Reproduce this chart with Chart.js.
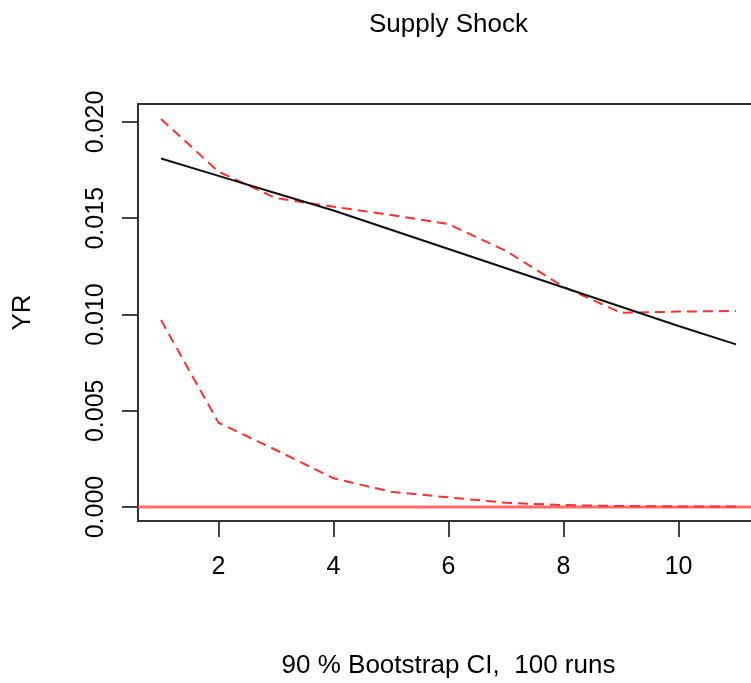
<!DOCTYPE html>
<html>
<head>
<meta charset="utf-8">
<script src="https://cdn.jsdelivr.net/npm/chart.js@4/dist/chart.umd.min.js"></script>
<style>
  html, body { margin: 0; padding: 0; background: #fff; overflow: hidden; }
  #wrap { width: 751px; height: 683px; position: relative; }
</style>
</head>
<body>
<div id="wrap"><canvas id="graph_area"></canvas></div>
<script>
// horizons 1..11
var steps = [1, 2, 3, 4, 5, 6, 7, 8, 9, 10, 11];
// impulse response of YR
var response = [0.0181, 0.0172, 0.0163, 0.0154, 0.0144, 0.0134, 0.0124, 0.0114, 0.0104, 0.0094, 0.00845];
// bootstrap band
var upperCI = [0.02016, 0.01742, 0.01604, 0.0156, 0.01517, 0.0147, 0.01330, 0.01144, 0.01009, 0.01015, 0.01018];
var lowerCI = [0.00971, 0.00438, 0.00296, 0.00149, 0.00079, 0.0005, 0.00022, 0.0001, 0.00005, 0.00003, 0.00002];
// tick labels
var xTicks = [2, 4, 6, 8, 10];
var yTicks = [0, 0.005, 0.010, 0.015, 0.020];
var yTickLabels = ['0.000', '0.005', '0.010', '0.015', '0.020'];

var FONT = '"Liberation Sans", Arial, Helvetica, sans-serif';

toPoints = function (ys) {
  return steps.map(function (x, i) { return { x: x, y: ys[i] }; });
}

// box, zero line and texts, R style
var rPlotPlugin = {
  id: 'rPlot',
  beforeDatasetsDraw: function (chart) {
    var ctx = chart.ctx;
    var area = chart.chartArea;
    var y0 = chart.scales.y.getPixelForValue(0);
    ctx.save();
    ctx.strokeStyle = 'rgba(255, 80, 80, 0.85)';
    ctx.lineWidth = 3;
    ctx.beginPath();
    ctx.moveTo(area.left, y0);
    ctx.lineTo(area.right, y0);
    ctx.stroke();
    ctx.restore();
  },
  afterDraw: function (chart) {
    var ctx = chart.ctx;
    var area = chart.chartArea;
    var yScale = chart.scales.y;
    ctx.save();
    // top of the box
    ctx.strokeStyle = '#333';
    ctx.lineWidth = 2;
    ctx.beginPath();
    ctx.moveTo(area.left - 1, area.top);
    ctx.lineTo(area.right, area.top);
    ctx.stroke();

    ctx.fillStyle = '#000';
    ctx.textAlign = 'center';
    ctx.textBaseline = 'middle';

    // title
    ctx.font = '26px ' + FONT;
    ctx.fillText('Supply Shock', (area.left + 759) / 2, 25);

    // x label
    ctx.font = '26px ' + FONT;
    ctx.fillText('90 % Bootstrap CI,  100 runs', (area.left + 759) / 2, 666);

    // y label
    ctx.save();
    ctx.translate(23, (area.top + area.bottom) / 2);
    ctx.rotate(-Math.PI / 2);
    ctx.fillText('YR', 0, 0);
    ctx.restore();

    // y tick labels, rotated like R
    ctx.font = '25px ' + FONT;
    yTicks.forEach(function (v, i) {
      ctx.save();
      ctx.translate(96, yScale.getPixelForValue(v));
      ctx.rotate(-Math.PI / 2);
      ctx.fillText(yTickLabels[i], 0, 0);
      ctx.restore();
    });
    ctx.restore();
  }
};

const ctx = document.getElementById('graph_area').getContext('2d');
new Chart(ctx, {
  type: 'line',
  data: {
    datasets: [{
      data: toPoints(response),
      borderColor: '#111',
      borderWidth: 2,
      pointRadius: 0,
      tension: 0
    }, {
      data: toPoints(upperCI),
      borderColor: '#ff3030',
      borderWidth: 2,
      borderDash: [10, 6],
      pointRadius: 0,
      tension: 0
    }, {
      data: toPoints(lowerCI),
      borderColor: '#ff3030',
      borderWidth: 2,
      borderDash: [10, 6],
      pointRadius: 0,
      tension: 0
    }]
  },
  options: {
    responsive: true,
    maintainAspectRatio: false,
    animation: false,
    layout: { padding: { top: 104, left: 0, right: 0, bottom: 0 } },
    plugins: {
      legend: { display: false },
      tooltip: { enabled: false }
    },
    scales: {
      x: {
        type: 'linear',
        min: 0.6,
        max: 11.26,
        afterBuildTicks: function (scale) {
          scale.ticks = xTicks.map(function (v) { return { value: v }; });
        },
        afterFit: function (scale) { scale.height = 162; },
        grid: { drawOnChartArea: false, drawTicks: true, tickLength: 16, color: '#444', lineWidth: 2 },
        border: { display: true, color: '#333', width: 2 },
        ticks: {
          color: '#000',
          padding: 15,
          maxRotation: 0,
          font: { family: FONT, size: 25 }
        }
      },
      y: {
        type: 'linear',
        min: -0.000727,
        max: 0.020935,
        afterBuildTicks: function (scale) {
          scale.ticks = yTicks.map(function (v) { return { value: v }; });
        },
        afterFit: function (scale) { scale.width = 138; },
        grid: { drawOnChartArea: false, drawTicks: true, tickLength: 16, color: '#444', lineWidth: 2 },
        border: { display: true, color: '#333', width: 2 },
        ticks: { display: false }
      }
    }
  },
  plugins: [rPlotPlugin]
});
</script>
</body>
</html>
